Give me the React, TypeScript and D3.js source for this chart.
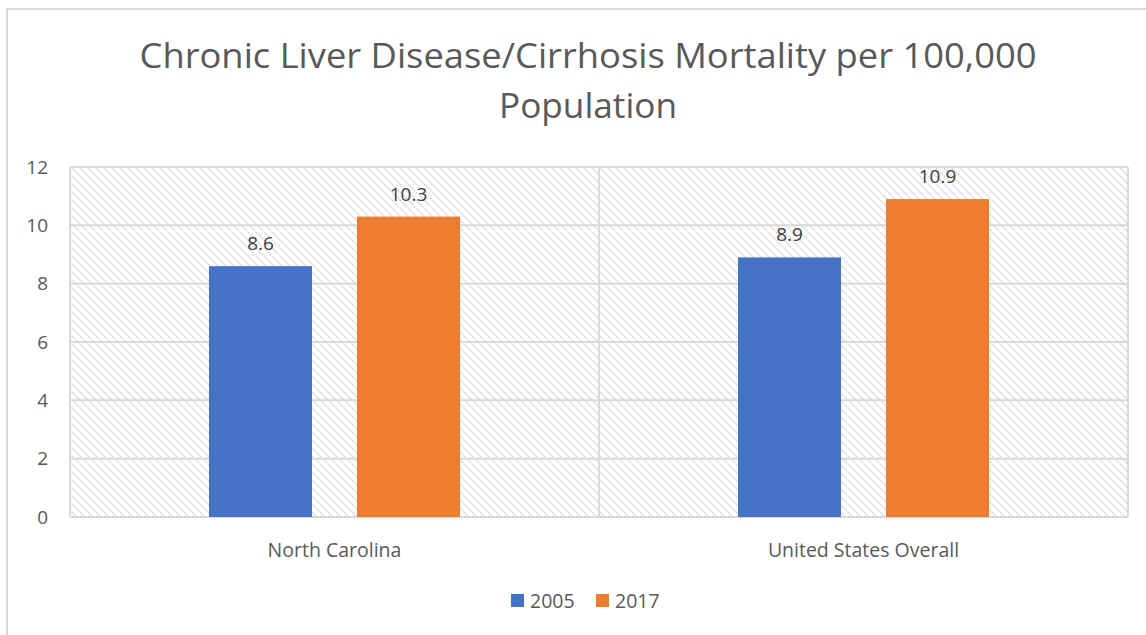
import React from "react";
import * as d3 from "d3";

const categories = ["North Carolina", "United States Overall"];
const seriesNames = ["2005", "2017"];
const values2005 = [8.6, 8.9];
const values2017 = [10.3, 10.9];
const colors = ["#4472C4", "#ED7D31"];
const yTicks = [0, 2, 4, 6, 8, 10, 12];
const titleLines = ["Chronic Liver Disease/Cirrhosis Mortality per 100,000", "Population"];

const W = 1146;
const H = 635;
const plot = { left: 70, right: 1128, top: 167, bottom: 517 };
const font = "'Open Sans', 'Liberation Sans', sans-serif";
const textColor = "#595959";

export default function App() {
  const x0 = d3.scaleBand().domain(categories).range([plot.left, plot.right]).padding(0);
  const barW = 103;
  const gap = 45;
  const y = d3.scaleLinear().domain([0, 12]).range([plot.bottom, plot.top]);
  const series = [values2005, values2017];

  return (
    <svg width={W} height={H} style={{ position: "absolute", left: 0, top: 0 }}>
      <defs>
        <pattern id="hatch" width="8" height="8" patternUnits="userSpaceOnUse">
          <rect width="8" height="8" fill="#ffffff" />
          <path d="M-2,-2 L10,10 M-2,6 L2,10 M6,-2 L10,2" stroke="#d3d3d3" strokeWidth="1.7" strokeDasharray="1.6,1.2" />
        </pattern>
      </defs>
      <rect x={0} y={0} width={W} height={H} fill="#fff" />
      <rect x={7} y={9} width={W + 20} height={H + 20} fill="#fff" stroke="#d9d9d9" strokeWidth={2} />
      {titleLines.map((t, i) => (
        <text
          key={i}
          x={588}
          y={68 + i * 50}
          textAnchor="middle"
          fontFamily={font}
          fontSize={35}
          fill={textColor}
          textLength={i === 0 ? 897 : 178}
          lengthAdjust="spacingAndGlyphs"
        >
          {t}
        </text>
      ))}
      <rect
        x={plot.left}
        y={plot.top}
        width={plot.right - plot.left}
        height={plot.bottom - plot.top}
        fill="url(#hatch)"
      />
      {yTicks.map((t) => (
        <g key={t}>
          <line x1={plot.left} x2={plot.right} y1={y(t)} y2={y(t)} stroke="#d9d9d9" strokeWidth={2} />
          <text x={48} y={y(t)} dy="0.35em" textAnchor="end" fontFamily={font} fontSize={19} fill={textColor}>
            {t}
          </text>
        </g>
      ))}
      {categories.map((c, i) => (
        <line
          key={"v" + i}
          x1={x0(c)!}
          x2={x0(c)!}
          y1={plot.top}
          y2={plot.bottom}
          stroke="#d9d9d9"
          strokeWidth={2}
        />
      ))}
      <line x1={plot.right} x2={plot.right} y1={plot.top} y2={plot.bottom} stroke="#d9d9d9" strokeWidth={2} />
      {categories.map((c, ci) => {
        const center = x0(c)! + x0.bandwidth() / 2;
        const start = center - (barW * 2 + gap) / 2;
        return (
          <g key={c}>
            {series.map((vals, si) => {
              const bx = start + si * (barW + gap);
              return (
                <g key={si}>
                  <rect x={bx} y={y(vals[ci])} width={barW} height={plot.bottom - y(vals[ci])} fill={colors[si]} />
                  <text
                    x={bx + barW / 2}
                    y={y(vals[ci]) - 16}
                    textAnchor="middle"
                    fontFamily={font}
                    fontSize={19}
                    fill="#404040"
                  >
                    {vals[ci]}
                  </text>
                </g>
              );
            })}
            <text x={center} y={557} textAnchor="middle" fontFamily={font} fontSize={19.5} fill={textColor}>
              {c}
            </text>
          </g>
        );
      })}
      {seriesNames.map((s, i) => {
        const lx = 511 + i * 85;
        return (
          <g key={s}>
            <rect x={lx} y={594} width={13} height={13} fill={colors[i]} />
            <text x={lx + 19} y={608} fontFamily={font} fontSize={19.5} fill={textColor}>
              {s}
            </text>
          </g>
        );
      })}
    </svg>
  );
}
